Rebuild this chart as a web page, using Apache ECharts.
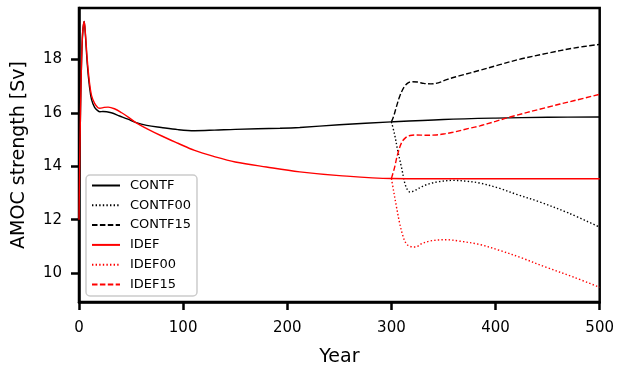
<!DOCTYPE html>
<html>
<head>
<meta charset="utf-8">
<script src="https://cdn.jsdelivr.net/npm/echarts@6/dist/echarts.min.js"></script>
<style>
  html, body { margin: 0; padding: 0; background: #fff; }
  #main { width: 617px; height: 372px; }
</style>
</head>
<body>
<div id="main"></div>
<script>
// spin-up runs, 0..500 years
const contfYears = [0, 1, 3, 5, 6, 8, 10, 12, 15, 18, 20, 23, 31, 39, 47, 55, 65, 79, 95, 111, 130, 150, 193, 212, 250, 300, 350, 400, 450, 500];
const contfVals  = [12.0, 15.0, 18.6, 19.42, 19.0, 17.8, 17.0, 16.5, 16.2, 16.08, 16.04, 16.05, 16.0, 15.88, 15.76, 15.63, 15.53, 15.45, 15.37, 15.33, 15.35, 15.38, 15.42, 15.45, 15.55, 15.66, 15.75, 15.8, 15.83, 15.84];

const idefYears = [0, 1, 3, 5, 6, 8, 10, 12, 15, 18, 20, 24, 28, 34, 41, 48, 55, 65, 79, 95, 111, 130, 150, 180, 212, 250, 300, 350, 400, 450, 500];
const idefVals  = [12.0, 15.0, 18.6, 19.42, 19.05, 17.95, 17.15, 16.65, 16.35, 16.2, 16.17, 16.2, 16.21, 16.15, 16.0, 15.82, 15.62, 15.41, 15.14, 14.86, 14.59, 14.36, 14.16, 13.97, 13.79, 13.65, 13.54, 13.53, 13.53, 13.53, 13.53];

// branch runs starting from year 300
const contf00Years = [300, 303, 306, 310, 313, 316, 318, 322, 330, 337, 345, 359, 372, 385, 404, 420, 442, 470, 500];
const contf00Vals  = [15.66, 15.2, 14.6, 13.9, 13.35, 13.08, 13.03, 13.08, 13.25, 13.35, 13.42, 13.47, 13.44, 13.37, 13.17, 12.95, 12.67, 12.25, 11.72];

const contf15Years = [300, 302, 305, 308, 312, 316, 320, 325, 331, 338, 345, 353, 365, 385, 404, 425, 449, 475, 500];
const contf15Vals  = [15.66, 15.85, 16.25, 16.62, 16.95, 17.12, 17.16, 17.15, 17.1, 17.08, 17.12, 17.24, 17.38, 17.59, 17.8, 18.02, 18.22, 18.42, 18.56];

const idef00Years = [300, 302, 305, 308, 311, 314, 318, 323, 330, 337, 345, 353, 365, 385, 404, 425, 450, 475, 500];
const idef00Vals  = [13.54, 13.1, 12.45, 11.85, 11.4, 11.12, 11.0, 10.98, 11.12, 11.2, 11.24, 11.25, 11.2, 11.07, 10.85, 10.57, 10.2, 9.85, 9.47];

const idef15Years = [300, 303, 306, 310, 314, 318, 324, 333, 343, 352, 359, 375, 385, 400, 412, 449, 475, 500];
const idef15Vals  = [13.54, 13.95, 14.45, 14.9, 15.08, 15.15, 15.17, 15.16, 15.17, 15.22, 15.27, 15.42, 15.51, 15.68, 15.82, 16.2, 16.45, 16.69];

const xTicks = [0, 100, 200, 300, 400, 500];
const yTicks = [10, 12, 14, 16, 18];

const FONT = 'DejaVu Sans';
const DASHED = [5.5, 2.4];
const DOTTED = [1.4, 2.2];

function pairs(xs, ys) {
    return xs.map((x, i) => [x, ys[i]]);
}

function makeSeries(name, xs, ys, color, type) {
    return {
        name: name,
        type: 'line',
        data: pairs(xs, ys),
        symbol: 'none',
        smooth: 0.35,
        lineStyle: { color: color, width: 1.4, type: type },
        itemStyle: { color: color },
        emphasis: { disabled: true },
        animation: false
    };
}

let chart = echarts.init(document.getElementById('main'));

let option = {
    animation: false,
    backgroundColor: '#fff',
    grid: {
        left: 79, right: 17, top: 8, bottom: 69,
        show: true, borderColor: '#000', borderWidth: 2.5, backgroundColor: 'transparent'
    },
    legend: {
        orient: 'vertical',
        left: 86, top: 175,
        itemWidth: 28, itemHeight: 14, itemGap: 6.8,
        padding: [4, 6, 5, 5],
        backgroundColor: '#fff',
        borderColor: '#cccccc', borderWidth: 1.5, borderRadius: 4,
        itemStyle: { opacity: 0 },
        textStyle: { fontFamily: FONT, fontSize: 13, color: '#000', padding: [0, 0, 0, 5] },
        data: ['CONTF', 'CONTF00', 'CONTF15', 'IDEF', 'IDEF00', 'IDEF15']
    },
    xAxis: {
        type: 'value',
        min: 0, max: 500, interval: 100,
        name: 'Year', nameLocation: 'middle', nameGap: 46,
        nameTextStyle: { fontFamily: FONT, fontSize: 19, color: '#000' },
        axisLine: { show: true, lineStyle: { color: '#000', width: 2.5 } },
        axisTick: { show: true, length: 8, lineStyle: { color: '#000', width: 2.5 } },
        axisLabel: { fontFamily: FONT, fontSize: 15, color: '#000', margin: 19 },
        splitLine: { show: false }
    },
    yAxis: {
        type: 'value',
        min: 8.92, max: 19.92,
        name: 'AMOC strength [Sv]', nameLocation: 'middle', nameGap: 50, nameRotate: 90,
        nameTextStyle: { fontFamily: FONT, fontSize: 19, color: '#000' },
        axisLine: { show: true, lineStyle: { color: '#000', width: 2.5 } },
        axisTick: { show: true, length: 8, customValues: yTicks, lineStyle: { color: '#000', width: 2.5 } },
        axisLabel: { fontFamily: FONT, fontSize: 15, color: '#000', margin: 17, customValues: yTicks },
        splitLine: { show: false }
    },
    series: [
        makeSeries('CONTF', contfYears, contfVals, '#000000', 'solid'),
        makeSeries('CONTF00', contf00Years, contf00Vals, '#000000', DOTTED),
        makeSeries('CONTF15', contf15Years, contf15Vals, '#000000', DASHED),
        makeSeries('IDEF', idefYears, idefVals, '#ff0000', 'solid'),
        makeSeries('IDEF00', idef00Years, idef00Vals, '#ff0000', DOTTED),
        makeSeries('IDEF15', idef15Years, idef15Vals, '#ff0000', DASHED)
    ]
};

chart.setOption(option);
</script>
</body>
</html>
